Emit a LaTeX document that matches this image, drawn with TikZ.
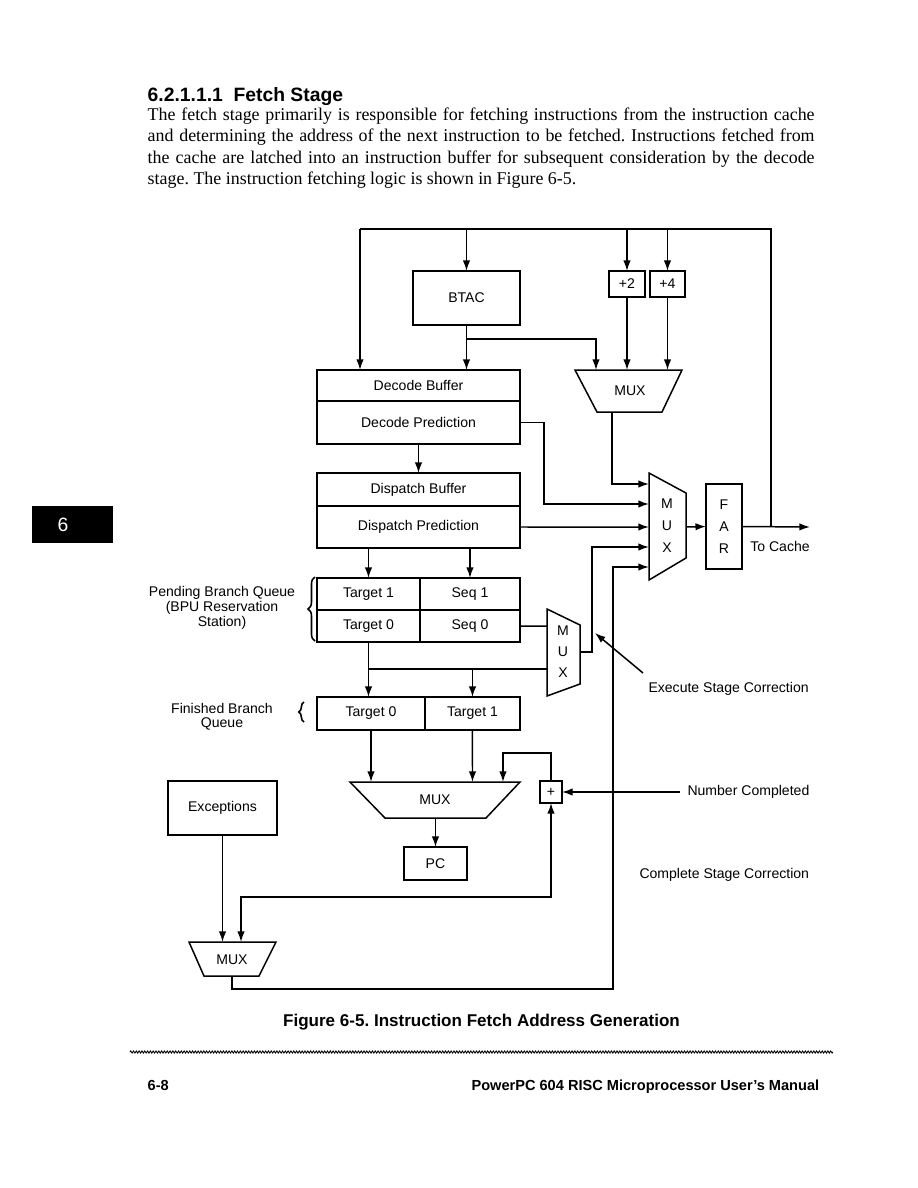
\documentclass[tikz,border=0pt]{standalone}
\usepackage{fontspec}
\setmainfont{Liberation Serif}
\setsansfont{Liberation Sans}
\usetikzlibrary{arrows.meta, positioning, decorations.pathreplacing, decorations.pathmorphing}

\newcommand{\lblfont}{\sffamily\fontsize{8}{9.6}\selectfont}
\newcommand{\stackfont}{\sffamily\fontsize{8}{12.5}\selectfont}
\frenchspacing

\begin{document}
\begin{tikzpicture}[
    x=0.02cm, y=-0.02cm, line width=0.85pt,
    blk/.style={rectangle, draw, inner sep=0pt, outer sep=0pt, font=\lblfont, align=center},
    mux/.style={draw, line join=miter},
    lbl/.style={font=\lblfont, inner sep=1pt, align=center},
    arr/.style={-{Latex[length=6pt, width=4.2pt]}},
    brc/.style={decorate, decoration={brace, amplitude=#1}, line width=0.9pt},
    txt/.style={anchor=base west, inner sep=0pt, font=\rmfamily\fontsize{10.2}{12}\selectfont}
]
\useasboundingbox (0,0) rectangle (918,1188);

% page text
\node[anchor=base west, inner sep=0pt, font=\sffamily\bfseries\fontsize{11}{13}\selectfont] (head) at (147,101) {6.2.1.1.1\hspace{0.55em}Fetch Stage};
\node[txt] (txt1) at (147,120) {\makebox[13.34cm][s]{The fetch stage primarily is responsible for fetching instructions from the instruction cache}};
\node[txt] (txt2) at (147,141.5) {\makebox[13.34cm][s]{and determining the address of the next instruction to be fetched. Instructions fetched from}};
\node[txt] (txt3) at (147,163) {\makebox[13.34cm][s]{the cache are latched into an instruction buffer for subsequent consideration by the decode}};
\node[txt] (txt4) at (147,184.5) {stage. The instruction fetching logic is shown in Figure 6-5.};

% chapter tab
\node[fill=black, minimum width=1.62cm, minimum height=0.74cm, inner sep=0pt] (tab) at (72.5,524.5) {};
\node[text=white, font=\sffamily\fontsize{11}{13}\selectfont, inner sep=0pt] (tabnum) at (63,525) {6};

% boxes
\node[blk, minimum width=2.14cm, minimum height=1.08cm] (btac) at (466.5,298) {BTAC};
\node[blk, minimum width=0.72cm, minimum height=0.52cm] (plus2) at (627,284) {+2};
\node[blk, minimum width=0.70cm, minimum height=0.52cm] (plus4) at (667.5,284) {+4};
\node[blk, minimum width=4.06cm, minimum height=0.62cm] (decbuf) at (418.5,385.5) {Decode Buffer};
\node[blk, minimum width=4.06cm, minimum height=0.86cm, below=0pt of decbuf] (decpred) {Decode Prediction};
\node[blk, minimum width=4.06cm, minimum height=0.66cm] (dispbuf) at (418.5,489.5) {Dispatch Buffer};
\node[blk, minimum width=4.06cm, minimum height=0.84cm, below=0pt of dispbuf] (disppred) {Dispatch Prediction};
\node[blk, minimum width=2.06cm, minimum height=0.64cm] (tgt1) at (368.5,594) {Target 1};
\node[blk, minimum width=2.0cm, minimum height=0.64cm, right=0pt of tgt1] (seq1) {Seq 1};
\node[blk, minimum width=2.06cm, minimum height=0.64cm, below=0pt of tgt1] (tgt0) {Target 0};
\node[blk, minimum width=2.0cm, minimum height=0.64cm, below=0pt of seq1] (seq0) {Seq 0};
\node[blk, minimum width=2.16cm, minimum height=0.66cm] (ftgt0) at (371,713.5) {Target 0};
\node[blk, minimum width=1.9cm, minimum height=0.66cm, right=0pt of ftgt0] (ftgt1) {Target 1};
\node[blk, minimum width=0.72cm, minimum height=1.7cm, font=\stackfont] (far) at (724,526.5) {F\\A\\R};
\node[blk, minimum width=0.44cm, minimum height=0.44cm] (adder) at (551,792) {+};
\node[blk, minimum width=1.26cm, minimum height=0.66cm] (pc) at (435.5,863.5) {PC};
\node[blk, minimum width=2.18cm, minimum height=1.08cm] (exc) at (222.5,808) {Exceptions};

% multiplexers
\draw[mux] (575,370) -- (682,370) -- (662,412) -- (597,412) -- cycle;
\node[lbl] (fmux) at (630,391) {MUX};
\draw[mux] (649,473) -- (686,493) -- (686,558) -- (649,580) -- cycle;
\node[lbl, font=\stackfont] (bmux) at (667,526) {M\\U\\X};
\draw[mux] (547,609) -- (580,625) -- (580,684) -- (547,696) -- cycle;
\node[lbl, font=\sffamily\fontsize{8}{12}\selectfont] (smux) at (563,652) {M\\U\\X};
\draw[mux] (350,782) -- (520,782) -- (486,818) -- (385,818) -- cycle;
\node[lbl] (pmux) at (435,800) {MUX};
\draw[mux] (189,942) -- (276,942) -- (259,976) -- (204,976) -- cycle;
\node[lbl] (cmux) at (232,960) {MUX};

% ports and bends
\coordinate (fmA) at (596,370);
\coordinate (fmB) at (627,370);
\coordinate (fmC) at (667.5,370);
\coordinate (fmO) at (612,412);
\coordinate (bmA) at (649,484);
\coordinate (bmB) at (649,504);
\coordinate (bmC) at (649,527);
\coordinate (bmD) at (649,547);
\coordinate (bmE) at (649,567);
\coordinate (bmO) at (686,527);
\coordinate (smA) at (547,626);
\coordinate (smB) at (547,669);
\coordinate (smO) at (580,652);
\coordinate (pmA) at (371,782);
\coordinate (pmB) at (472.5,782);
\coordinate (pmC) at (503,782);
\coordinate (pmO) at (435.5,818);
\coordinate (cmA) at (222.5,942);
\coordinate (cmB) at (241,942);
\coordinate (cmO) at (232,976);
\coordinate (topL) at (360,229);
\coordinate (topR) at (771,229);
\coordinate (tap) at (771,527);
\coordinate (cache) at (810,527);
\coordinate (bsplit) at (466.5,339);
\coordinate (dpk) at (544,504);
\coordinate (sk) at (592,547);
\coordinate (ck) at (613,989);
\coordinate (tk) at (368.5,669);
\coordinate (pk) at (503,753);
\coordinate (ak) at (551,897);
\coordinate (ectip) at (595,633);
\coordinate (ectail) at (643,673);
\coordinate (nctail) at (680,792);

% fetch address loop
\draw (tap) -- (topR) -- (topL);
\draw[arr] (topL) -- (topL |- decbuf.north);
\draw[arr] (topL -| btac) -- (btac.north);
\draw[arr] (topL -| plus2) -- (plus2.north);
\draw[arr] (topL -| plus4) -- (plus4.north);
\draw[arr] (btac.south) -- (btac.south |- decbuf.north);
\draw[arr] (bsplit) -| (fmA);
\draw[arr] (plus2.south) -- (fmB);
\draw[arr] (plus4.south) -- (fmC);
\draw[arr] (decpred.south) -- (dispbuf.north);

% into the fetch MUX
\draw[arr] (fmO) |- (bmA);
\draw[arr] (decpred.east) -| (dpk) -- (bmB);
\draw[arr] (disppred.east) -- (bmC);
\draw[arr] (smO) -| (sk) -- (bmD);
\draw[arr] (cmO) |- (ck) |- (bmE);
\draw[arr] (bmO) -- (far.west);
\draw[arr] (far.east) -- (cache);

% branch queues
\draw[arr] (disppred.south -| tgt1) -- (tgt1.north);
\draw[arr] (disppred.south -| seq1) -- (seq1.north);
\draw (seq0.east) -- (smA);
\draw[arr] (tgt0.south) -- (tgt0.south |- ftgt0.north);
\draw (tk) -- (smB);
\draw[arr] (tk -| ftgt1) -- (ftgt1.north);
\draw[arr] (ectail) -- (ectip);

% completion
\draw[arr] (ftgt0.south) -- (pmA);
\draw[arr] (ftgt1.south) -- (pmB);
\draw[arr] (adder.north) |- (pk) -- (pmC);
\draw[arr] (pmO) -- (pc.north);
\draw[arr] (nctail) -- (adder.east);
\draw[{Latex[length=6pt, width=4.2pt]}-{Latex[length=6pt, width=4.2pt]}] (cmB) |- (ak) -- (adder.south);
\draw[arr] (exc.south) -- (cmA);

% labels
\node[lbl] (tocache) at (780,546) {To Cache};
\node[lbl, anchor=west] (exec) at (646,689) {Execute Stage Correction};
\node[lbl, anchor=west] (numc) at (685,792) {Number Completed};
\node[lbl, anchor=west] (csc) at (637,875) {Complete Stage Correction};
\node[lbl, font=\sffamily\fontsize{8}{8.5}\selectfont] (pbq) at (222,608) {Pending Branch Queue\\(BPU Reservation\\Station)};
\node[lbl, font=\sffamily\fontsize{8}{8}\selectfont] (fbq) at (222,717) {Finished Branch\\Queue};
\draw[brc=4pt] (315,641) -- (315,577);
\draw[brc=3pt] (304,722) -- (304,702);

% caption and footer
\node[anchor=base, inner sep=0pt, font=\sffamily\bfseries\fontsize{9.7}{11}\selectfont] (cap) at (481.5,1026) {Figure 6-5. Instruction Fetch Address Generation};
\draw[line width=0.5pt, decorate, decoration={zigzag, segment length=1.6pt, amplitude=0.6pt}] (130,1052) -- (833,1052);
\node[anchor=base west, inner sep=0pt, font=\sffamily\bfseries\fontsize{8.3}{10}\selectfont] (pgno) at (147,1090) {6-8};
\node[anchor=base east, inner sep=0pt, font=\sffamily\bfseries\fontsize{8.3}{10}\selectfont] (manual) at (820,1090) {PowerPC 604 RISC Microprocessor User's Manual};
\end{tikzpicture}
\end{document}
